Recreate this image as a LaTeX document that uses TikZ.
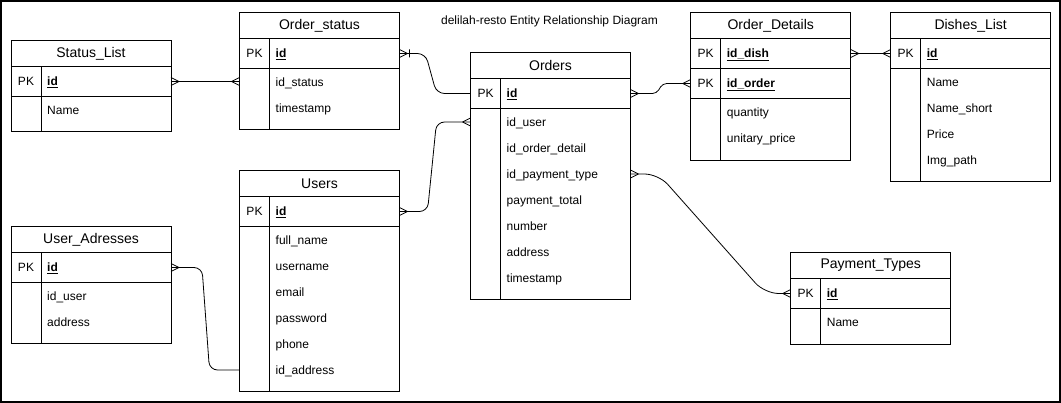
\documentclass[tikz,border=0pt]{standalone}
\usepackage{fontspec}
\setmainfont{Liberation Sans}
\usetikzlibrary{positioning,calc}

\begin{document}
\begin{tikzpicture}[x=1pt,y=-1pt,
    tbl/.style={draw, line width=1pt, minimum width=160pt, inner sep=0pt, outer sep=0pt},
    hdr/.style={tbl, minimum height=26pt, font=\fontsize{14}{16}\selectfont},
    keyrow/.style={tbl, minimum height=30pt},
    tblbody/.style={tbl, minimum height=#1},
    fld/.style={anchor=west, inner sep=0pt, text height=8.5pt, text depth=0pt, font=\fontsize{12}{14}\selectfont},
    pklabel/.style={fld, anchor=center},
    conn/.style={draw, line width=0.8pt},
    crow/.pic={\draw[conn] (8,0) -- (0,-4) (8,0) -- (0,4);},
    crowbar/.pic={\draw[conn] (8,0) -- (0,-4) (8,0) -- (0,4) (10,-4) -- (10,4);}
]
    \useasboundingbox (0,0) rectangle (1061,403);
    \draw[line width=1.2pt] (1,1) rectangle (1060,402);
    \node[fld, anchor=center] (title) at (549.5,20) {delilah-resto Entity Relationship Diagram};

    % Status_List
    \node[hdr] (sl) at (91,53.5) {Status\_List};
    \node[keyrow, below=0pt of sl] (sl-pk) {};
    \node[tblbody=35pt, below=0pt of sl-pk] (sl-body) {};
    \draw[line width=1pt] ([xshift=30pt]sl-pk.north west) -- ([xshift=30pt]sl-body.south west);
    \node[pklabel] at ([xshift=15pt]sl-pk.west) {PK};
    \node[fld] at ([xshift=36pt]sl-pk.west) {\underline{\textbf{id}}};
    \node[fld] (sl-name) at ([shift={(36pt,-13.5pt)}]sl-body.north west) {Name};

    % Order_status
    \node[hdr] (os) at (319.5,25.5) {Order\_status};
    \node[keyrow, below=0pt of os] (os-pk) {};
    \node[tblbody=61pt, below=0pt of os-pk] (os-body) {};
    \draw[line width=1pt] ([xshift=30pt]os-pk.north west) -- ([xshift=30pt]os-body.south west);
    \node[pklabel] at ([xshift=15pt]os-pk.west) {PK};
    \node[fld] at ([xshift=36pt]os-pk.west) {\underline{\textbf{id}}};
    \node[fld] (os-idst) at ([shift={(36pt,-13.5pt)}]os-body.north west) {id\_status};
    \node[fld] (os-ts) at ([yshift=-26pt]os-idst.west) {timestamp};

    % Orders
    \node[hdr] (ord) at (550.5,65.5) {Orders};
    \node[keyrow, below=0pt of ord] (ord-pk) {};
    \node[tblbody=191.5pt, below=0pt of ord-pk] (ord-body) {};
    \draw[line width=1pt] ([xshift=30pt]ord-pk.north west) -- ([xshift=30pt]ord-body.south west);
    \node[pklabel] at ([xshift=15pt]ord-pk.west) {PK};
    \node[fld] at ([xshift=36pt]ord-pk.west) {\underline{\textbf{id}}};
    \node[fld] (ord-iduser) at ([shift={(36pt,-13.5pt)}]ord-body.north west) {id\_user};
    \node[fld] (ord-iddet) at ([yshift=-26pt]ord-iduser.west) {id\_order\_detail};
    \node[fld] (ord-idpay) at ([yshift=-26pt]ord-iddet.west) {id\_payment\_type};
    \node[fld] (ord-total) at ([yshift=-26pt]ord-idpay.west) {payment\_total};
    \node[fld] (ord-num) at ([yshift=-26pt]ord-total.west) {number};
    \node[fld] (ord-addr) at ([yshift=-26pt]ord-num.west) {address};
    \node[fld] (ord-ts) at ([yshift=-26pt]ord-addr.west) {timestamp};

    % Order_Details
    \node[hdr] (od) at (770.7,25.5) {Order\_Details};
    \node[keyrow, below=0pt of od] (od-pk1) {};
    \node[keyrow, below=0pt of od-pk1] (od-pk2) {};
    \node[tblbody=62pt, below=0pt of od-pk2] (od-body) {};
    \draw[line width=1pt] ([xshift=30pt]od-pk1.north west) -- ([xshift=30pt]od-body.south west);
    \node[pklabel] at ([xshift=15pt]od-pk1.west) {PK};
    \node[fld] at ([xshift=36pt]od-pk1.west) {\underline{\textbf{id\_dish}}};
    \node[pklabel] at ([xshift=15pt]od-pk2.west) {PK};
    \node[fld] at ([xshift=36pt]od-pk2.west) {\underline{\textbf{id\_order}}};
    \node[fld] (od-qty) at ([shift={(36pt,-13.5pt)}]od-body.north west) {quantity};
    \node[fld] (od-price) at ([yshift=-26pt]od-qty.west) {unitary\_price};

    % Dishes_List
    \node[hdr] (dl) at (970.7,25.5) {Dishes\_List};
    \node[keyrow, below=0pt of dl] (dl-pk) {};
    \node[tblbody=113pt, below=0pt of dl-pk] (dl-body) {};
    \draw[line width=1pt] ([xshift=30pt]dl-pk.north west) -- ([xshift=30pt]dl-body.south west);
    \node[pklabel] at ([xshift=15pt]dl-pk.west) {PK};
    \node[fld] at ([xshift=36pt]dl-pk.west) {\underline{\textbf{id}}};
    \node[fld] (dl-name) at ([shift={(36pt,-13.5pt)}]dl-body.north west) {Name};
    \node[fld] (dl-short) at ([yshift=-26pt]dl-name.west) {Name\_short};
    \node[fld] (dl-price) at ([yshift=-26pt]dl-short.west) {Price};
    \node[fld] (dl-img) at ([yshift=-26pt]dl-price.west) {Img\_path};

    % Users
    \node[hdr] (us) at (319.5,183.5) {Users};
    \node[keyrow, below=0pt of us] (us-pk) {};
    \node[tblbody=165pt, below=0pt of us-pk] (us-body) {};
    \draw[line width=1pt] ([xshift=30pt]us-pk.north west) -- ([xshift=30pt]us-body.south west);
    \node[pklabel] at ([xshift=15pt]us-pk.west) {PK};
    \node[fld] at ([xshift=36pt]us-pk.west) {\underline{\textbf{id}}};
    \node[fld] (us-full) at ([shift={(36pt,-13.5pt)}]us-body.north west) {full\_name};
    \node[fld] (us-user) at ([yshift=-26pt]us-full.west) {username};
    \node[fld] (us-mail) at ([yshift=-26pt]us-user.west) {email};
    \node[fld] (us-pass) at ([yshift=-26pt]us-mail.west) {password};
    \node[fld] (us-phone) at ([yshift=-26pt]us-pass.west) {phone};
    \node[fld] (us-idaddr) at ([yshift=-26pt]us-phone.west) {id\_address};

    % User_Adresses
    \node[hdr] (ua) at (91,239.5) {User\_Adresses};
    \node[keyrow, below=0pt of ua] (ua-pk) {};
    \node[tblbody=61.5pt, below=0pt of ua-pk] (ua-body) {};
    \draw[line width=1pt] ([xshift=30pt]ua-pk.north west) -- ([xshift=30pt]ua-body.south west);
    \node[pklabel] at ([xshift=15pt]ua-pk.west) {PK};
    \node[fld] at ([xshift=36pt]ua-pk.west) {\underline{\textbf{id}}};
    \node[fld] (ua-iduser) at ([shift={(36pt,-13.5pt)}]ua-body.north west) {id\_user};
    \node[fld] (ua-addr) at ([yshift=-26pt]ua-iduser.west) {address};

    % Payment_Types
    \node[hdr] (pt) at (870.7,265.5) {Payment\_Types};
    \node[keyrow, below=0pt of pt] (pt-pk) {};
    \node[tblbody=36pt, below=0pt of pt-pk] (pt-body) {};
    \draw[line width=1pt] ([xshift=30pt]pt-pk.north west) -- ([xshift=30pt]pt-body.south west);
    \node[pklabel] at ([xshift=15pt]pt-pk.west) {PK};
    \node[fld] at ([xshift=36pt]pt-pk.west) {\underline{\textbf{id}}};
    \node[fld] (pt-name) at ([shift={(36pt,-13.5pt)}]pt-body.north west) {Name};

    % relations
    \draw[conn] (sl-pk.east) -- (sl-pk.east -| os-body.west);
    \pic at (sl-pk.east) {crow};
    \pic[xscale=-1] at (sl-pk.east -| os-body.west) {crow};

    \draw[conn, rounded corners=8pt] (os-pk.east) -- ++(26,0) -- ($(ord-pk.west)+(-34,0)$) -- (ord-pk.west);
    \pic at (os-pk.east) {crowbar};

    \draw[conn, rounded corners=8pt] (us-pk.east) -- ++(28,0) -- ($(ord-iduser -| ord-body.west)+(-34,0)$) -- (ord-iduser -| ord-body.west);
    \pic at (us-pk.east) {crow};
    \pic[xscale=-1] at (ord-iduser -| ord-body.west) {crow};

    \draw[conn, rounded corners=8pt] (ua-pk.east) -- ++(31,0) -- ($(us-idaddr -| us-body.west)+(-30,0)$) -- (us-idaddr -| us-body.west);
    \pic at (ua-pk.east) {crow};

    \draw[conn, rounded corners=4pt] (ord-pk.east) -- ++(26,0) -- ($(od-pk2.west)+(-28,0)$) -- (od-pk2.west);
    \pic at (ord-pk.east) {crow};
    \pic[xscale=-1] at (od-pk2.west) {crow};

    \draw[conn] (od-pk1.east) -- (dl-pk.west);
    \pic at (od-pk1.east) {crow};
    \pic[xscale=-1] at (dl-pk.west) {crow};

    \draw[conn, rounded corners=14pt] (ord-idpay -| ord-body.east) -- ++(28,0) -- ($(pt-pk.west)+(-26,0)$) -- (pt-pk.west);
    \pic at (ord-idpay -| ord-body.east) {crow};
    \pic[xscale=-1] at (pt-pk.west) {crow};
\end{tikzpicture}
\end{document}
